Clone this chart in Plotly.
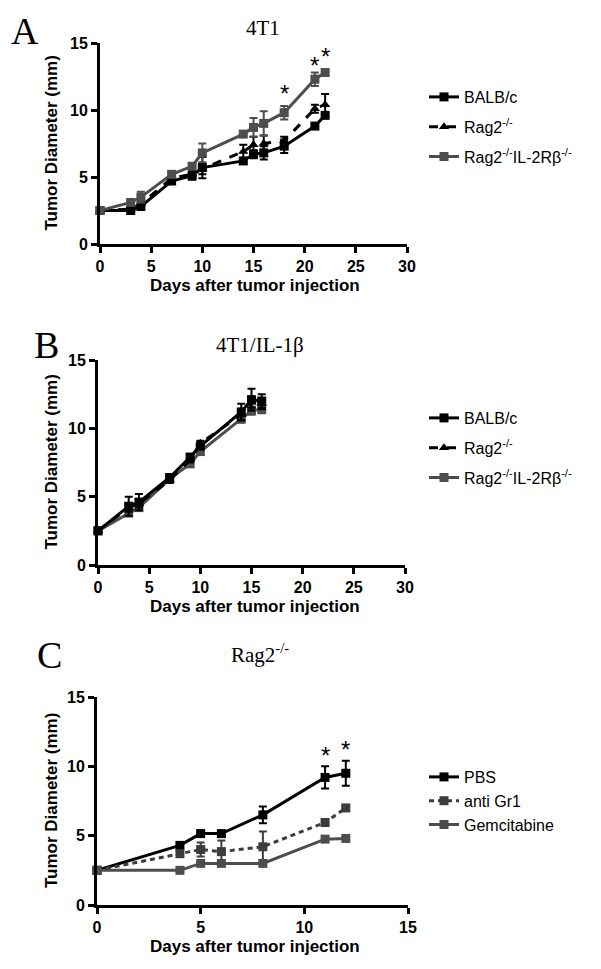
import plotly.graph_objects as go

# ---------------- Data ----------------
# Panel A: 4T1
days_A = [0, 3, 4, 7, 9, 10, 14, 15, 16, 18, 21, 22]
balb_A = [2.5, 2.5, 2.8, 4.7, 5.1, 5.7, 6.2, 6.7, 6.8, 7.3, 8.8, 9.6]
balb_A_err = [0, 0.1, 0.1, 0.2, 0.3, 0.8, 0.2, 0.3, 0.5, 0.5, 0.1, 0.2]
rag2_A = [2.5, 2.6, 3.0, 4.9, 5.2, 5.6, 6.9, 7.4, 7.5, 7.7, 10.1, 10.4]
rag2_A_err = [0, 0.1, 0.2, 0.2, 0.3, 0.4, 0.5, 0.6, 0.6, 0.3, 0.3, 0.8]
rag2il_A = [2.5, 3.1, 3.5, 5.2, 5.8, 6.8, 8.2, 8.7, 9.0, 9.8, 12.3, 12.8]
rag2il_A_err = [0, 0.2, 0.4, 0.2, 0.2, 0.7, 0.1, 0.7, 0.9, 0.5, 0.5, 0.1]
stars_A_x = [18, 21, 22]
stars_A_y = [11.2, 13.3, 14.0]

# Panel B: 4T1/IL-1beta
days_B = [0, 3, 4, 7, 9, 10, 14, 15, 16]
balb_B = [2.5, 4.3, 4.6, 6.4, 7.9, 8.7, 11.2, 12.1, 12.0]
balb_B_err = [0, 0.7, 0.6, 0.2, 0.2, 0.2, 0.6, 0.8, 0.5]
rag2_B = [2.5, 4.2, 4.5, 6.2, 7.7, 8.9, 11.0, 11.9, 11.8]
rag2_B_err = [0, 0.3, 0.3, 0.2, 0.2, 0.2, 0.4, 0.4, 0.4]
rag2il_B = [2.5, 3.8, 4.2, 6.3, 7.4, 8.3, 10.7, 11.3, 11.4]
rag2il_B_err = [0, 0.2, 0.2, 0.2, 0.2, 0.2, 0.3, 0.3, 0.3]

# Panel C: Rag2-/-
days_C = [0, 4, 5, 6, 8, 11, 12]
pbs_C = [2.5, 4.3, 5.15, 5.15, 6.5, 9.2, 9.5]
pbs_C_err = [0, 0.1, 0.1, 0.1, 0.6, 0.8, 0.9]
gr1_C = [2.5, 3.7, 4.0, 3.85, 4.2, 5.95, 7.0]
gr1_C_err = [0, 0.1, 0.5, 0.8, 1.1, 0.1, 0.1]
gem_C = [2.5, 2.5, 3.0, 3.0, 3.0, 4.75, 4.8]
gem_C_err = [0, 0.1, 0.1, 0.1, 0.1, 0.1, 0.1]
stars_C_x = [11, 12]
stars_C_y = [10.8, 11.2]

labels_AB = ["BALB/c", "Rag2<sup>-/-</sup>", "Rag2<sup>-/-</sup>IL-2Rβ<sup>-/-</sup>"]
labels_C = ["PBS", "anti Gr1", "Gemcitabine"]

BLACK = "#000000"
GRAY = "#4d4d4d"
SANS = "Arial, Liberation Sans, sans-serif"
SERIF = "Times New Roman, Liberation Serif, serif"

W, H = 601, 969
OFF = 8  # page body margin offset

fig = go.Figure()


def add(x, y, err, name, color, dash, symbol, xa, ya, legend, group, rank):
    fig.add_trace(go.Scatter(
        x=x, y=y, name=name, mode="lines+markers",
        line=dict(color=color, width=3, dash=dash),
        marker=dict(symbol=symbol, size=9, color=color),
        error_y=dict(type="data", array=err, visible=True, color=color,
                     thickness=2, width=4),
        xaxis=xa, yaxis=ya, legend=legend, legendgroup=group, legendrank=rank,
        cliponaxis=False,
    ))


add(days_A, balb_A, balb_A_err, labels_AB[0], BLACK, "solid", "square", "x", "y", "legend", "a1", 1)
add(days_A, rag2_A, rag2_A_err, labels_AB[1], BLACK, "dash", "triangle-up", "x", "y", "legend", "a2", 2)
add(days_A, rag2il_A, rag2il_A_err, labels_AB[2], GRAY, "solid", "square", "x", "y", "legend", "a3", 3)

add(days_B, rag2il_B, rag2il_B_err, labels_AB[2], GRAY, "solid", "square", "x2", "y2", "legend2", "b3", 3)
add(days_B, rag2_B, rag2_B_err, labels_AB[1], BLACK, "dash", "triangle-up", "x2", "y2", "legend2", "b2", 2)
add(days_B, balb_B, balb_B_err, labels_AB[0], BLACK, "solid", "square", "x2", "y2", "legend2", "b1", 1)

add(days_C, pbs_C, pbs_C_err, labels_C[0], BLACK, "solid", "square", "x3", "y3", "legend3", "c1", 1)
add(days_C, gr1_C, gr1_C_err, labels_C[1], "#3c3c3c", "5px,4px", "square", "x3", "y3", "legend3", "c2", 2)
add(days_C, gem_C, gem_C_err, labels_C[2], GRAY, "solid", "square", "x3", "y3", "legend3", "c3", 3)


def px_x(p):
    return (p - OFF) / W


def px_y(p):
    return 1 - (p - OFF) / H


axis_common = dict(
    showline=True, linewidth=3, linecolor="black", mirror=False,
    ticks="outside", ticklen=6, tickwidth=2.5, tickcolor="black",
    showgrid=False, zeroline=False,
    tickfont=dict(family=SANS, size=16, color="black", weight="bold"),
)

# plot areas (pixel positions in the target picture)
areas = {
    "A": dict(x0=100, x1=407, y0=43, y1=244, xmax=30),
    "B": dict(x0=98, x1=405, y0=360, y1=565, xmax=30),
    "C": dict(x0=97, x1=408, y0=697, y1=905, xmax=15),
}

layout = dict(
    width=W, height=H, margin=dict(l=0, r=0, t=0, b=0, autoexpand=False),
    paper_bgcolor="white", plot_bgcolor="white",
    font=dict(family=SANS, color="black"),
)
keys = [("A", "", ""), ("B", "2", "2"), ("C", "3", "3")]
for k, sx, sy in keys:
    a = areas[k]
    layout["xaxis" + sx] = dict(
        axis_common, domain=[px_x(a["x0"]), px_x(a["x1"])], range=[0, a["xmax"]],
        tick0=0, dtick=5, anchor="y" + sy, automargin=False,
    )
    layout["yaxis" + sy] = dict(
        axis_common, domain=[px_y(a["y1"]), px_y(a["y0"])], range=[0, 15],
        tick0=0, dtick=5, anchor="x" + sx, automargin=False,
    )

legend_common = dict(
    bgcolor="rgba(0,0,0,0)", font=dict(family=SANS, size=16, color="black"),
    itemwidth=30, tracegroupgap=6, xanchor="left", yanchor="top",
)
layout["legend"] = dict(legend_common, x=px_x(424), y=px_y(80), traceorder="grouped")
layout["legend2"] = dict(legend_common, x=px_x(424), y=px_y(401), traceorder="grouped")
layout["legend3"] = dict(legend_common, x=px_x(424), y=px_y(760), traceorder="normal")

fig.update_layout(**layout)

ann = []


def note(text, x, y, font, **kw):
    d = dict(text=text, x=x, y=y, xref="paper", yref="paper", showarrow=False,
             xanchor="center", yanchor="middle", font=font)
    d.update(kw)
    ann.append(d)


# panel letters and titles
note("A", px_x(25), 1.0, dict(family=SERIF, size=38, color="black"), yanchor="top")
for letter, lx, ly in [("B", 46, 345), ("C", 50, 655)]:
    note(letter, px_x(lx), px_y(ly), dict(family=SERIF, size=38, color="black"))
for title, tx, ty in [("4T1", 263, 28), ("4T1/IL-1β", 260, 345), ("Rag2<sup>-/-</sup>", 260, 653)]:
    note(title, px_x(tx), px_y(ty), dict(family=SERIF, size=21, color="black"))
# axis titles
for k in ["A", "B", "C"]:
    a = areas[k]
    note("Tumor Diameter (mm)", px_x(51), px_y((a["y0"] + a["y1"]) / 2),
         dict(family=SANS, size=17, color="black", weight="bold"), textangle=-90)
    note("Days after tumor injection", px_x(255), px_y(a["y1"] + 41),
         dict(family=SANS, size=17, color="black", weight="bold"))
# significance stars
for sx_, sy_ in zip(stars_A_x, stars_A_y):
    ann.append(dict(text="*", x=sx_, y=sy_, xref="x", yref="y", showarrow=False,
                    xanchor="center", yanchor="middle",
                    font=dict(family=SANS, size=24, color="black")))
for sx_, sy_ in zip(stars_C_x, stars_C_y):
    ann.append(dict(text="*", x=sx_, y=sy_, xref="x3", yref="y3", showarrow=False,
                    xanchor="center", yanchor="middle",
                    font=dict(family=SANS, size=24, color="black")))

fig.update_layout(annotations=ann)
fig.write_html("out.html")
